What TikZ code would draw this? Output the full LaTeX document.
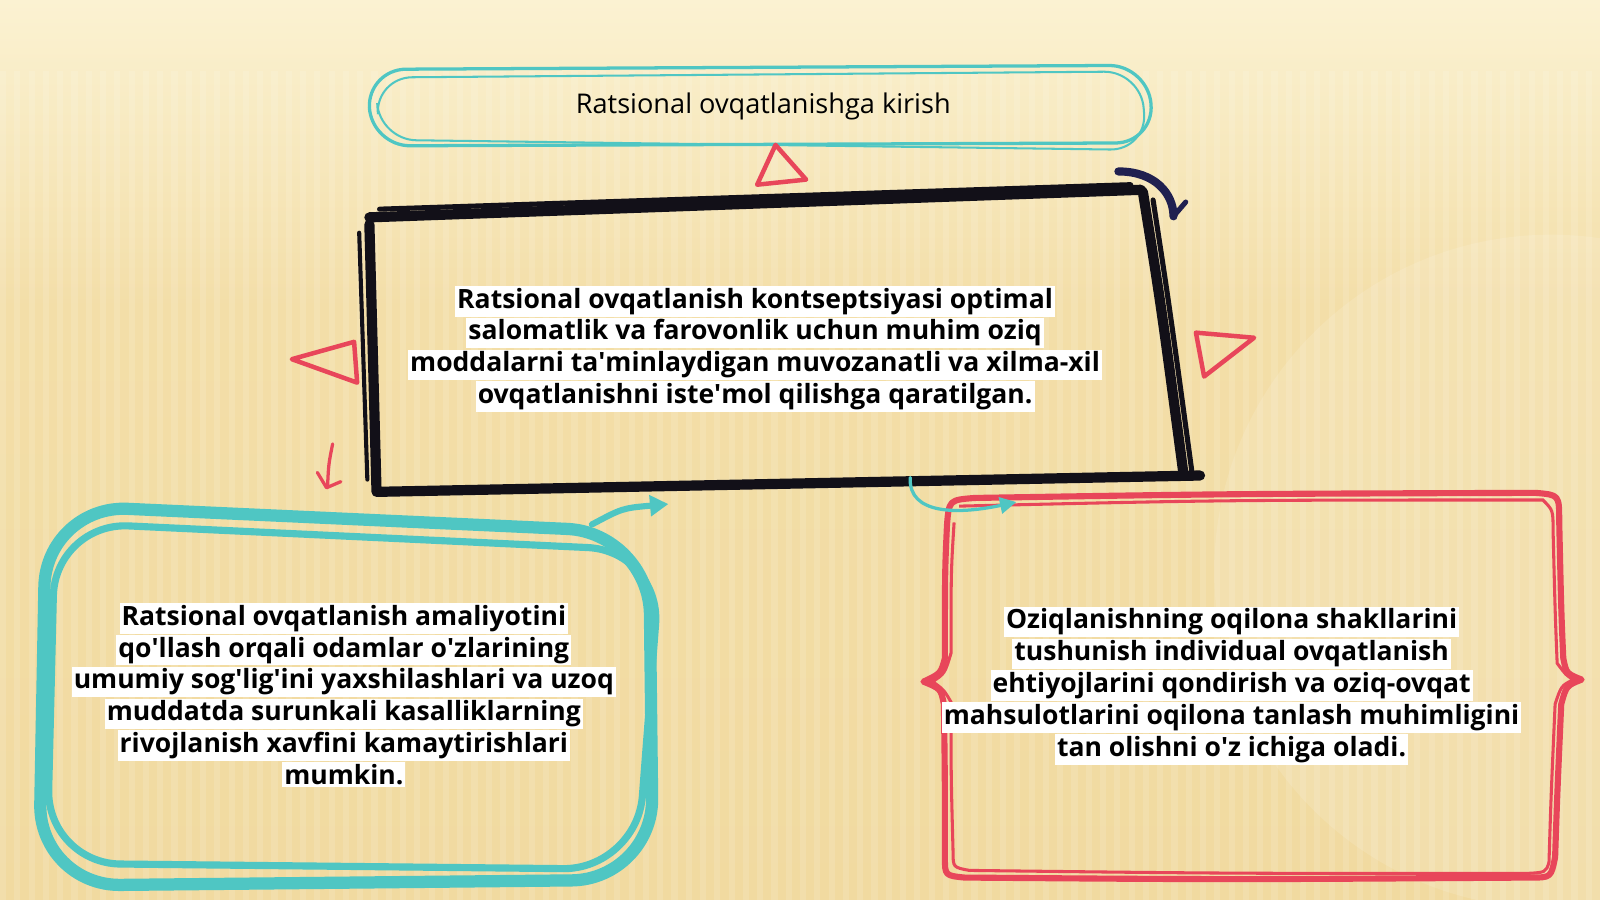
\documentclass[tikz,border=0pt]{standalone}
\usepackage{fontspec}
\setmainfont{Open Sans}
\usetikzlibrary{arrows.meta}
\definecolor{tealc}{HTML}{4FC6C3}
\definecolor{redc}{HTML}{E8465A}
\definecolor{blk}{HTML}{121018}
\definecolor{navyc}{HTML}{202050}
\definecolor{bgtop}{HTML}{FBF2D2}
\definecolor{bgmid}{HTML}{F3DEA8}
\definecolor{bgbot}{HTML}{F1DAA0}
\setlength{\fboxsep}{1pt}
\newcommand\hl[1]{\colorbox{white}{#1}}
\newcommand\ap{\textquotesingle}
\newcommand\txtfont{\bfseries\fontsize{13}{15.6}\selectfont\lineskiplimit=-20pt\relax}
\begin{document}
\begin{tikzpicture}[x=0.5pt,y=-0.5pt,
  txt/.style={align=center, inner sep=0pt, font=\txtfont},
  tri/.style={draw=redc, line width=2.2pt, line join=round},
]
\useasboundingbox (0,0) rectangle (1568,882);
\shade[top color=bgtop, bottom color=bgmid] (0,0) rectangle (1568,300);
\shade[top color=bgmid, bottom color=bgbot] (0,300) rectangle (1568,882);
\fill[white, opacity=0.12] (1520,560) ellipse (330 and 330);
\foreach \i in {0,...,112} {
  \fill[white, opacity=0.12] (\i*14,70) rectangle (\i*14+6,882);
}
% title box
\draw[tealc, line width=1.6pt, rounded corners=19pt] (360,68) -- (1125,64) -- (1131,140) -- (364,143) -- cycle;
\draw[tealc, line width=1pt, rounded corners=18pt] (368,76) -- (1118,70) -- (1124,147) -- (372,137) -- cycle;
\node (title) at (748,104) {\fontsize{13.3}{15}\selectfont Ratsional ovqatlanishga kirish};
% red triangle under title
\draw[tri] (760,142) -- (742,181) -- (790,176) -- cycle;
% main box
\draw[blk, line width=5pt, line cap=round] (362,213) -- (1118,186);
\draw[blk, line width=2.5pt, line cap=round] (372,205) -- (1108,181);
\draw[blk, line width=5pt, line cap=round] (362,220) -- (369,482);
\draw[blk, line width=2pt, line cap=round] (352,228) -- (360,470);
\draw[blk, line width=5pt, line cap=round] (1120,188) .. controls (1138,300) .. (1160,466);
\draw[blk, line width=2.5pt, line cap=round] (1130,196) .. controls (1146,300) .. (1168,462);
\draw[blk, line width=5pt, line cap=round] (370,482) -- (1176,466);
\draw[navyc, line width=4pt, line cap=round] (1096,168) .. controls (1132,168) and (1150,190) .. (1150,212);
\draw[navyc, line width=2.5pt, line cap=round] (1150,212) -- (1162,198);
\node[txt] (main) at (740,342) {\hl{Ratsional ovqatlanish kontseptsiyasi optimal}\\
\hl{salomatlik va farovonlik uchun muhim oziq}\\
\hl{moddalarni ta\ap minlaydigan muvozanatli va xilma-xil}\\
\hl{ovqatlanishni iste\ap mol qilishga qaratilgan.}};
% side triangles
\draw[tri] (286,352) -- (347,335) -- (350,375) -- cycle;
\draw[tri] (1172,326) -- (1229,331) -- (1180,369) -- cycle;
% small red arrow
\draw[redc, line width=1.6pt, line cap=round] (326,435) .. controls (322,455) .. (321,477);
\draw[redc, line width=1.6pt, line cap=round, line join=round] (311,463) -- (320,478) -- (334,472);
% left teal box
\draw[tealc, line width=6pt, rounded corners=40pt] (45,495) -- (636,522) -- (640,862) -- (38,868) -- cycle;
\draw[tealc, line width=3.5pt, rounded corners=36pt] (54,512) -- (648,540) -- (624,852) -- (46,846) -- cycle;
\draw[tealc, line width=3pt, line cap=round, -{Triangle[length=9pt,width=10pt]}] (580,514) .. controls (610,498) .. (655,494);
\node[txt] (left) at (337,681) {\hl{Ratsional ovqatlanish amaliyotini}\\
\hl{qo\ap llash orqali odamlar o\ap zlarining}\\
\hl{umumiy sog\ap lig\ap ini yaxshilashlari va uzoq}\\
\hl{muddatda surunkali kasalliklarning}\\
\hl{rivojlanish xavfini kamaytirishlari}\\
\hl{mumkin.}};
% right red box
\draw[redc, line width=3pt, line join=round] (955,488) .. controls (1200,484) .. (1505,483) .. controls (1528,485) .. (1528,510)
  .. controls (1530,600) .. (1532,645) .. controls (1535,660) .. (1550,666) .. controls (1535,672) .. (1530,690)
  .. controls (1526,780) .. (1524,840) .. controls (1520,860) .. (1500,860) .. controls (1200,862) .. (945,860)
  .. controls (926,858) .. (926,840) .. controls (926,760) .. (925,690) .. controls (922,675) .. (905,668)
  .. controls (922,660) .. (926,645) .. controls (926,560) .. (928,515) .. controls (930,490) .. cycle;
\draw[redc, line width=1.5pt] (940,496) .. controls (1200,490) .. (1512,490) .. controls (1522,500) .. (1522,520)
  .. controls (1524,600) .. (1526,650) .. controls (1535,662) .. (1542,666) .. controls (1530,672) .. (1524,690)
  .. controls (1520,780) .. (1518,845) .. controls (1515,855) .. (1495,856) .. controls (1200,856) .. (950,853)
  .. controls (934,850) .. (934,835) .. controls (932,760) .. (932,688) .. controls (925,676) .. (914,668)
  .. controls (926,660) .. (932,640) .. controls (932,560) .. (935,512);
\draw[tealc, line width=1.6pt, line cap=round, -{Triangle[length=8pt,width=8pt]}] (892,468) .. controls (890,505) and (940,504) .. (996,492);
\node[txt] (right) at (1207,672) {\hl{Oziqlanishning oqilona shakllarini}\\
\hl{tushunish individual ovqatlanish}\\
\hl{ehtiyojlarini qondirish va oziq-ovqat}\\
\hl{mahsulotlarini oqilona tanlash muhimligini}\\
\hl{tan olishni o\ap z ichiga oladi.}};
\end{tikzpicture}
\end{document}
